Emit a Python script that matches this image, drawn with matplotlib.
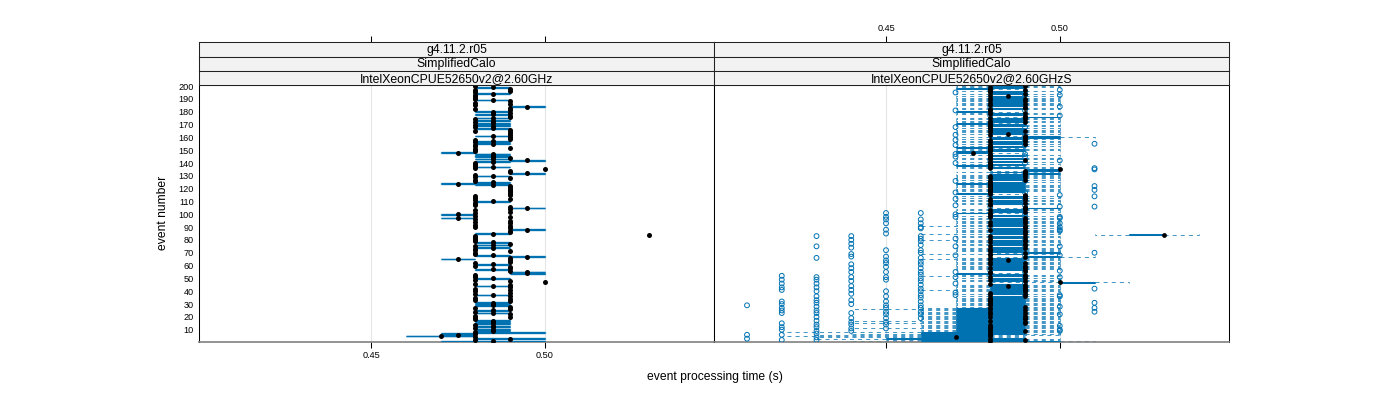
import numpy as np
import matplotlib
matplotlib.use("Agg")
import matplotlib.pyplot as plt
from matplotlib.collections import LineCollection

plt.rcParams['font.family'] = ['Liberation Sans', 'DejaVu Sans']

# ---------------- data (times in hundredths of a second) ----------------
events = list(range(1, 201))

strip_labels = [["g4.11.2.r05", "SimplifiedCalo", "IntelXeonCPUE52650v2@2.60GHz"],
                ["g4.11.2.r05", "SimplifiedCalo", "IntelXeonCPUE52650v2@2.60GHzS"]]
x_ticks = [0.45, 0.50]
x_tick_labels = ["0.45", "0.50"]
y_ticks = list(range(10, 201, 10))

# left panel: per-event low / median / high
left_lo = [47,48,48,48,46,47,47,48,48,48, 48,48,48,48,48,48,48,48,48,49,
           48,49,48,48,48,49,48,49,48,48, 48,49,48,49,48,49,48,48,49,48,
           49,48,49,48,49,48,50,49,48,48, 48,48,48,49,49,49,48,49,49,48,
           48,48,49,49,47,49,49,48,48,48, 49,48,48,48,48,48,49,48,48,48,
           48,48,48,53,48,49,49,49,49,48, 49,48,49,48,49,48,47,49,48,47,
           48,49,48,49,49,49,48,48,48,48, 48,49,48,48,49,49,49,49,49,49,
           49,49,48,47,48,48,48,49,48,48, 48,49,49,49,50,48,48,48,48,48,
           48,49,48,49,48,48,48,47,48,48, 48,49,48,48,48,48,48,48,49,49,
           48,49,49,49,48,49,48,48,48,48, 48,48,48,48,48,49,49,48,49,48,
           49,48,49,49,48,49,48,49,48,48, 48,48,48,48,48,49,48,49,48,48]
left_med = [48.5,48,49,48,47,47.5,48,48,48.5,48.5, 48,48.5,48.5,48,48.5,48.5,48.5,48,48,49,
            48,49,48.5,48,48.5,49,48,49,48.5,48.5, 48.5,49,48,49,48,49,48.5,48,49,48,
            49,48,49,48.5,49,48,50,49,48,48.5, 48,48,48,49.5,49.5,49,48.5,49,49,48,
            48.5,48,49,49,47.5,49,49.5,48.5,48,48, 49,48,48,48.5,48,48.5,49,48.5,48,48,
            48,48,48,53,48.5,49,49,49.5,49,48, 49,48,49,48,49,48,47.5,49,48,47.5,
            48,49,48,49,49.5,49,48,48,48,48.5, 48,49,48,48,49,49,49,49,49,49,
            49,49,48.5,47.5,48.5,48,48,49,48,48.5, 48,49.5,49,49,50,48,48.5,48,48,48,
            48.5,49.5,48.5,49,48.5,48.5,48.5,47.5,48,48, 48,49,48,48,48.5,48,48.5,48,49,49,
            48.5,49,49,49,48,49,48.5,48,48.5,48, 48.5,48,48.5,48,48.5,49,49,48.5,49,48.5,
            49,48,49,49.5,48,49,48,49,48.5,48, 48,48,48,48.5,48,49,48,49,48.5,48]
left_hi = [50,48,50,48,48,48,48,50,49,49, 48,49,49,48,49,49,49,48,48,49,
           48,49,49,48,49,49,48,49,49,49, 49,49,48,49,48,49,49,48,49,48,
           49,48,49,49,49,48,50,49,48,49, 48,48,48,50,50,49,49,49,49,48,
           49,48,49,49,48,49,50,49,48,48, 49,48,48,49,48,49,49,49,48,48,
           48,48,48,53,49,49,49,50,49,48, 49,48,49,48,49,48,48,49,48,48,
           48,49,48,49,50,49,48,48,48,49, 48,49,48,48,49,49,49,49,49,49,
           49,49,49,48,49,48,48,49,48,49, 48,50,49,49,50,48,49,48,48,48,
           49,50,49,49,49,49,49,48,48,48, 48,49,48,48,49,48,49,48,49,49,
           49,49,49,49,48,49,49,48,49,48, 49,48,49,48,49,49,49,49,49,49,
           49,48,49,50,48,49,48,49,49,48, 48,48,48,49,48,49,48,49,49,48]

# right panel: per-event whisker low, lower hinge, median, upper hinge, whisker high
right_wlo = [44,45,43,43,42,43,44,42,46,46, 44,46,46,46,44,46,44,46,46,46,
             46,46,46,46,46,44,46,47,47,47, 47,47,47,47,47,47,48,47,48,47,
             46,47,47,47,47,48,48,47,47,47, 48,46,47,47,48,49,47,47,47,47,
             47,47,47,47,46,47,48,48,46,48, 47,47,47,47,48,47,47,47,47,46,
             48,47,47,51,46,47,47,47,47,49, 46,47,47,47,47,47,47,48,47,48,
             47,47,47,47,48,49,48,47,47,47, 47,48,47,47,49,47,48,47,47,47,
             47,47,47,47,47,48,47,47,47,47, 47,48,47,48,49,47,47,47,47,48,
             47,49,47,47,48,47,48,47,47,47, 47,47,47,48,47,47,47,48,47,47,
             48,48,47,47,47,47,47,48,47,47, 47,47,47,47,47,48,49,47,47,47,
             48,47,47,49,47,47,47,47,47,47, 47,47,48,47,48,47,49,47,47,47]
right_q1 = [46,46,45,46,46,46,46,46,47,47, 47,47,47,47,47,47,47,47,47,47,
            47,47,47,47,47,47,47,48,48,48, 48,48,48,48,48,48,48,48,48,48,
            48,48,48,48,48,48,50,48,48,48, 48,48,48,47,48,49,48,48,48,48,
            48,48,48,48,48,48,49,48,48,49, 48,48,48,48,48,48,48,48,48,48,
            48,48,48,52,48,48,48,48,48,49, 48,48,48,48,48,48,48,48,48,48,
            47,48,48,48,49,49,48,48,48,48, 48,48,48,48,49,47,48,48,48,48,
            48,48,48,47,48,48,48,48,48,48, 48,49,48,49,49,48,48,47,48,48,
            48,49,48,48,48,48,48,47,47,48, 48,47,48,48,48,48,48,48,48,48,
            49,48,48,48,48,48,48,48,48,48, 47,48,48,48,48,49,49,48,48,47,
            48,48,48,49,48,48,48,48,48,48, 48,48,48,48,48,48,49,47,48,48]
right_med = [48,49,48,47,48,48,48,48,49,48, 48,48,48,48,49,49,48,49,49,48,
             49,48,49,48,49,48,48,49,48,48, 48,48,48,48,48,49,48,49,48,49,
             49,49,49,48.5,49,48,50,49,48,49, 48,49,49,48,48,49,49,48,49,49,
             48,49,48,48.5,48,48,49,48,48,49, 48,48,48,49,48,49,49,48,49,49,
             48,49,48,53,49,49,49,48,49,49, 49,48,49,48,49,49,49,48,48,48,
             48,49,48,49,49,49,48,48,49,48, 49,48,49,49,49,48,48,48,48,48,
             48,48,48,48,48,48,49,48,49,48, 49,49,49,49,50,48,48,48,48,48,
             48,49,48,48,48,48,48,47.5,48,48, 48,48,48,48,49,48,49,48,49,49,
             49,48,48.5,48,49,48,48,48,48,48, 48,49,48,49,48,49,49,48,49,48,
             48,48,49,49,48,49,48,49,48,49, 48,48.5,48,49,48,48,49,48,48,49]
right_q3 = [50,49,49,48,48,48,49,49,49,49, 49,49,49,49,49,49,49,49,49,49,
            49,49,49,49,49,49,49,49,49,49, 49,49,49,49,49,49,48,49,48,49,
            49,49,49,49,49,48,51,49,49,49, 48,49,49,48,48,49,49,49,49,49,
            49,49,49,49,49,49,50,48,49,50, 49,49,49,49,48,49,49,49,49,49,
            48,49,49,53,49,49,49,49,49,49, 49,49,49,49,49,49,49,48,49,48,
            48,49,49,49,50,49,48,49,49,49, 49,48,49,49,49,48,48,49,49,49,
            49,49,49,48,49,48,49,49,49,49, 49,50,49,50,50,49,49,48,49,48,
            49,49,49,49,48,49,48,48,48,49, 49,48,49,48,49,49,49,48,49,50,
            50,48,49,49,49,49,49,48,49,49, 48,49,49,49,49,50,49,49,49,48,
            48,49,49,49,49,49,49,49,49,49, 49,49,48,49,48,49,49,48,49,49]
right_whi = [51,50,50,49,49,50,50,50,50,50, 50,50,50,50,50,50,50,50,50,50,
             50,50,50,50,50,50,50,50,50,50, 50,50,50,50,50,50,48,50,48,50,
             50,50,50,50,50,48,52,50,50,50, 48,50,50,49,48,49,50,50,50,50,
             50,50,50,50,50,50,51,48,50,50, 50,50,50,50,48,50,50,50,50,50,
             48,50,50,54,50,50,50,50,50,49, 50,50,50,50,50,50,50,48,50,48,
             49,50,50,50,50,49,48,50,50,50, 50,48,50,50,49,49,48,50,50,50,
             50,50,50,49,50,48,50,50,50,50, 50,50,50,50,50,50,50,49,50,48,
             50,49,50,50,48,50,48,49,49,50, 50,49,50,48,50,50,50,48,50,51,
             50,48,50,50,50,50,50,48,50,50, 49,50,50,50,50,50,49,50,50,49,
             48,50,50,49,50,50,50,50,50,50, 50,50,48,50,48,50,49,49,50,50]

# right panel outliers: time value (hundredths) -> events showing an outlier there
outlier_times = [41, 42, 43, 44, 45, 46, 47, 48, 49, 50, 51]
outlier_events = [
    [3, 6, 29],
    [2, 6, 10, 12, 15, 23, 25, 27, 30, 32, 41, 43, 46, 49, 52],
    [2, 4, 7, 9, 12, 14, 17, 20, 23, 25, 28, 31, 33, 36, 40, 43, 46, 49, 51, 66, 75, 83],
    [9, 11, 14, 16, 19, 23, 30, 33, 38, 41, 44, 48, 51, 55, 58, 61, 67, 69, 74, 77, 80, 83],
    [11, 14, 16, 19, 22, 24, 27, 29, 32, 36, 40, 49, 51, 55, 59, 62, 64, 67, 72, 85, 88,
     93, 96, 98, 101],
    [19, 22, 24, 27, 29, 32, 35, 37, 40, 42, 45, 48, 50, 53, 55, 58, 61, 63, 66, 70, 72,
     76, 79, 81, 83, 89, 90, 93, 96, 101],
    [37, 39, 46, 51, 55, 68, 75, 81, 98, 100, 107, 112, 117, 126, 140, 145, 147, 154,
     158, 162, 168, 181, 195],
    [56, 90, 106, 115, 142, 177, 184, 197],
    [37, 39, 46, 51, 55, 68, 75, 81, 98, 100, 107, 112, 117, 126, 140, 145, 147, 154,
     158, 162, 168, 181, 193, 195],
    [9, 10, 13, 22, 28, 36, 37, 51, 56, 68, 75, 87, 88, 90, 93, 97, 98, 106, 115, 142,
     177, 184, 193, 197],
    [24, 27, 31, 42, 70, 106, 114, 119, 122, 135, 136, 155],
]

# ---------------- drawing ----------------
BLUE = '#0072B2'
W, H = 1400, 400
fig = plt.figure(figsize=(14, 4), dpi=100)


def fx(px):
    return px / W


def fy(py):
    return 1 - py / H


XLIM = (0.4005, 0.5487)
YLIM = (0.4, 200.6)
panel_x = [(199, 714), (714, 1229)]
panel_top, panel_bot = 85.3, 342.0
strip_edges = [42.3, 56.6, 70.9, 85.3]
LW = 0.75


def draw_bw(ax, wlo, q1, med, q3, whi, box_lw=LW):
    y = np.array(events, dtype=float)
    wlo = np.array(wlo) / 100.0
    q1 = np.array(q1) / 100.0
    med = np.array(med) / 100.0
    q3 = np.array(q3) / 100.0
    whi = np.array(whi) / 100.0
    h = 0.25
    box = []
    for yi, a, b in zip(y, q1, q3):
        box += [[(a, yi - h), (b, yi - h)], [(a, yi + h), (b, yi + h)],
                [(a, yi - h), (a, yi + h)], [(b, yi - h), (b, yi + h)]]
    ax.add_collection(LineCollection(box, colors=BLUE, linewidths=box_lw, zorder=3))
    wh, st = [], []
    for yi, lo, a, b, hi in zip(y, wlo, q1, q3, whi):
        if lo < a - 1e-9:
            wh.append([(a, yi), (lo, yi)])
            st.append([(lo, yi - h), (lo, yi + h)])
        if hi > b + 1e-9:
            wh.append([(b, yi), (hi, yi)])
            st.append([(hi, yi - h), (hi, yi + h)])
    if wh:
        ax.add_collection(LineCollection(wh, colors=BLUE, linewidths=0.65, alpha=0.8,
                                         linestyles=[(0, (4.5, 4.5))], zorder=2))
        ax.add_collection(LineCollection(st, colors=BLUE, linewidths=0.6, alpha=0.8,
                                         zorder=2))
    return y, med


axes = []
for k, (x0, x1) in enumerate(panel_x):
    ax = fig.add_axes([fx(x0), fy(panel_bot), (x1 - x0) / W, (panel_bot - panel_top) / H])
    ax.set_xlim(*XLIM)
    ax.set_ylim(*YLIM)
    for xv in x_ticks:
        ax.axvline(xv, color='#e6e6e6', lw=0.8, zorder=0)
    for sp in ax.spines.values():
        sp.set_linewidth(LW)
        sp.set_color('black')
    ax.spines['bottom'].set_color('#808080')
    ax.spines['bottom'].set_linewidth(1.2)
    ax.set_xticks(x_ticks)
    ax.tick_params(axis='x', direction='out', length=4.3, width=LW, labelsize=6.6,
                   pad=2.5, colors='black')
    if k == 0:
        ax.set_xticklabels(x_tick_labels)
        ax.set_yticks(y_ticks)
        ax.set_yticklabels([str(v) for v in y_ticks])
        ax.tick_params(axis='y', length=0, labelsize=6.6, pad=3.6)
    else:
        ax.set_xticklabels(['', ''])
        ax.set_yticks([])
    axes.append(ax)

    # strips
    for r in range(3):
        ytop, ybot = strip_edges[r], strip_edges[r + 1]
        sax = fig.add_axes([fx(x0), fy(ybot), (x1 - x0) / W, (ybot - ytop) / H])
        sax.set_facecolor('#f2f2f2')
        sax.set_xlim(*XLIM)
        sax.set_ylim(0, 1)
        sax.set_yticks([])
        for sp in sax.spines.values():
            sp.set_linewidth(LW)
            sp.set_color('#222222')
        sax.text(0.5, 0.45, strip_labels[k][r], transform=sax.transAxes,
                 ha='center', va='center', fontsize=8.8)
        if r == 0:
            sax.xaxis.tick_top()
            sax.set_xticks(x_ticks)
            sax.tick_params(axis='x', direction='out', length=4.3, width=LW,
                            labelsize=6.6, pad=2.5)
            if k == 1:
                sax.set_xticklabels(x_tick_labels)
            else:
                sax.set_xticklabels(['', ''])
        else:
            sax.set_xticks([])

# left panel (two runs per event: box spans the runs, dot at the median)
y, med = draw_bw(axes[0], left_lo, left_lo, left_med, left_hi, left_hi, box_lw=0.95)
axes[0].scatter(med, y, s=13, c='black', linewidths=0, zorder=5)

# right panel
y, med = draw_bw(axes[1], right_wlo, right_q1, right_med, right_q3, right_whi)
ox, oy = [], []
for t, evs in zip(outlier_times, outlier_events):
    for e in evs:
        ox.append(t / 100.0)
        oy.append(e)
axes[1].scatter(ox, oy, s=12, facecolors='none', edgecolors=BLUE, linewidths=0.7, zorder=4)
axes[1].scatter(med, y, s=12, c='black', linewidths=0, zorder=5)

fig.text(fx(714.5), fy(377), "event processing time (s)", ha='center', va='center', fontsize=8.7)
fig.text(fx(163), fy(213), "event number", ha='center', va='center', rotation=90, fontsize=8.7)

fig.savefig("out.png", dpi=100)
